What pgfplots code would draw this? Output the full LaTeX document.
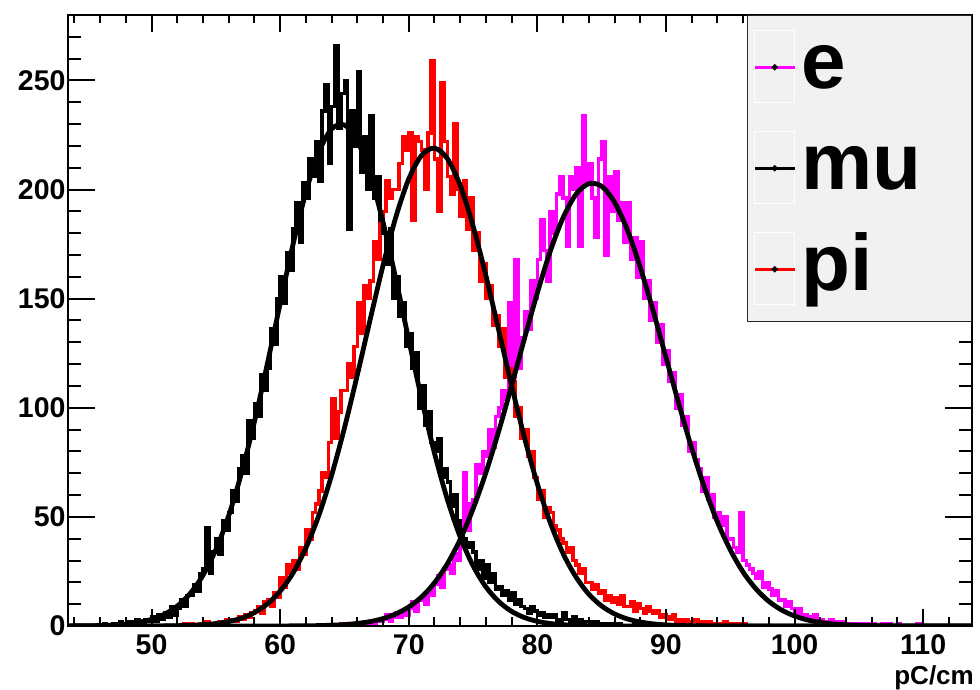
\documentclass[border=0pt]{standalone}
\usepackage{fontspec}
\setmainfont{Liberation Sans}
\usepackage{pgfplots}
\pgfplotsset{compat=1.18}

\definecolor{legbg}{RGB}{241,241,241}
\definecolor{emag}{RGB}{255,0,255}

% common frame of both axes (ROOT look: ticks inside, on all four sides)
\pgfplotsset{
  rootframe/.style={
    scale only axis, width=904pt, height=611pt,
    at={(68pt,64pt)}, anchor=south west,
    xmin=43.5, xmax=113.8, ymin=0, ymax=280,
    tick align=inside,
    axis line style={line width=2pt},
    tick style={black, line width=2pt},
    /pgf/number format/assume math mode=true,
    ticklabel style={font=\bfseries\fontsize{28.5}{28.5}\selectfont},
  },
  hist/.style={const plot, line width=3.6pt},
  gfit/.style={smooth, black, line width=4.8pt},
}

\begin{document}
\begin{tikzpicture}
\useasboundingbox (0,0) rectangle (980pt,690pt);

\begin{axis}[rootframe, axis on top,
  xtick={50,60,...,110}, minor xtick={44,46,...,112}, ytick=\empty,
  major tick length=17pt, minor tick length=8.5pt,
  xticklabel style={yshift=-5pt},
  xlabel={pC/cm},
  xlabel style={at={(rel axis cs:1,0)}, anchor=base east, inner sep=0pt,
    xshift=2pt, yshift=-58.5pt, font=\bfseries\fontsize{26}{26}\selectfont},
]
% e
\addplot[hist, emag] coordinates {
(43.5,0)
(64,0) (64.25,0) (64.5,0) (64.75,1)
(65,0) (65.25,1) (65.5,0) (65.75,0)
(66,1) (66.25,0) (66.5,2) (66.75,1)
(67,2) (67.25,1) (67.5,3) (67.75,2)
(68,3) (68.25,5) (68.5,2) (68.75,4)
(69,6) (69.25,4) (69.5,7) (69.75,5)
(70,8) (70.25,11) (70.5,7) (70.75,12)
(71,13) (71.25,10) (71.5,16) (71.75,14)
(72,19) (72.25,23) (72.5,18) (72.75,26)
(73,28) (73.25,24) (73.5,33) (73.75,30)
(74,38) (74.25,70) (74.5,44) (74.75,56)
(75,58) (75.25,74) (75.5,70) (75.75,80)
(76,78) (76.25,90) (76.5,82) (76.75,96)
(77,100) (77.25,108) (77.5,104) (77.75,148)
(78,114) (78.25,168) (78.5,118) (78.75,132)
(79,144) (79.25,136) (79.5,158) (79.75,150)
(80,168) (80.25,186) (80.5,172) (80.75,158)
(81,190) (81.25,180) (81.5,198) (81.75,206)
(82,196) (82.25,174) (82.5,206) (82.75,200)
(83,210) (83.25,174) (83.5,234) (83.75,204)
(84,212) (84.25,196) (84.5,178) (84.75,214)
(85,222) (85.25,170) (85.5,206) (85.75,190)
(86,208) (86.25,186) (86.5,194) (86.75,176)
(87,194) (87.25,168) (87.5,178) (87.75,160)
(88,176) (88.25,150) (88.5,158) (88.75,140)
(89,148) (89.25,130) (89.5,138) (89.75,120)
(90,126) (90.25,112) (90.5,116) (90.75,100)
(91,106) (91.25,92) (91.5,96) (91.75,80)
(92,84) (92.25,76) (92.5,72) (92.75,62)
(93,68) (93.25,58) (93.5,60) (93.75,50)
(94,52) (94.25,46) (94.5,50) (94.75,40)
(95,40) (95.25,36) (95.5,34) (95.75,52)
(96,30) (96.25,28) (96.5,26) (96.75,24)
(97,22) (97.25,25) (97.5,18) (97.75,20)
(98,17) (98.25,14) (98.5,16) (98.75,12)
(99,12) (99.25,9) (99.5,11) (99.75,8)
(100,6) (100.25,8) (100.5,4) (100.75,5)
(101,4) (101.25,3) (101.5,5) (101.75,2)
(102,3) (102.25,2) (102.5,1) (102.75,3)
(103,2) (103.25,1) (103.5,2) (103.75,0)
(104,1) (104.25,1) (104.5,0) (104.75,1)
(105,0) (105.25,1) (105.5,1) (105.75,0)
(106,1) (106.25,0) (106.5,0) (106.75,1)
(107,0) (107.25,1) (107.5,0) (107.75,0)
(108,1) (108.25,0) (108.5,0) (108.75,0)
(109,0) (109.25,0) (109.5,1) (109.75,0)
(110,0) (113.8,0)
};
% pi
\addplot[hist, red] coordinates {
(43.5,0)
(52,0) (52.25,0) (52.5,1) (52.75,0)
(53,1) (53.25,0) (53.5,0) (53.75,1)
(54,0) (54.25,2) (54.5,1) (54.75,0)
(55,1) (55.25,2) (55.5,1) (55.75,3)
(56,2) (56.25,3) (56.5,2) (56.75,4)
(57,3) (57.25,5) (57.5,4) (57.75,6)
(58,7) (58.25,9) (58.5,6) (58.75,11)
(59,12) (59.25,9) (59.5,15) (59.75,13)
(60,22) (60.25,18) (60.5,28) (60.75,24)
(61,30) (61.25,26) (61.5,36) (61.75,33)
(62,44) (62.25,40) (62.5,52) (62.75,56)
(63,62) (63.25,70) (63.5,68) (63.75,84)
(64,104) (64.25,86) (64.5,98) (64.75,108)
(65,108) (65.25,120) (65.5,114) (65.75,128)
(66,148) (66.25,134) (66.5,156) (66.75,150)
(67,158) (67.25,176) (67.5,168) (67.75,186)
(68,190) (68.25,204) (68.5,196) (68.75,200)
(69,200) (69.25,212) (69.5,224) (69.75,218)
(70,226) (70.25,186) (70.5,224) (70.75,222)
(71,218) (71.25,200) (71.5,226) (71.75,259)
(72,214) (72.25,190) (72.5,249) (72.75,222)
(73,206) (73.25,198) (73.5,230) (73.75,200)
(74,188) (74.25,204) (74.5,182) (74.75,196)
(75,172) (75.25,180) (75.5,158) (75.75,166)
(76,150) (76.25,156) (76.5,138) (76.75,142)
(77,128) (77.25,136) (77.5,114) (77.75,118)
(78,112) (78.25,96) (78.5,100) (78.75,86)
(79,90) (79.25,78) (79.5,80) (79.75,68)
(80,58) (80.25,62) (80.5,50) (80.75,54)
(81,52) (81.25,46) (81.5,44) (81.75,40)
(82,38) (82.25,34) (82.5,36) (82.75,30)
(83,28) (83.25,24) (83.5,26) (83.75,20)
(84,20) (84.25,17) (84.5,19) (84.75,15)
(85,16) (85.25,12) (85.5,14) (85.75,11)
(86,13) (86.25,10) (86.5,14) (86.75,9)
(87,9) (87.25,11) (87.5,7) (87.75,10)
(88,8) (88.25,6) (88.5,9) (88.75,7)
(89,6) (89.25,7) (89.5,4) (89.75,5)
(90,4) (90.25,3) (90.5,5) (90.75,2)
(91,3) (91.25,2) (91.5,3) (91.75,1)
(92,2) (92.25,3) (92.5,1) (92.75,2)
(93,1) (93.25,2) (93.5,1) (93.75,0)
(94,1) (94.25,0) (94.5,2) (94.75,1)
(95,0) (95.25,1) (95.5,0) (95.75,1)
(96,1) (96.25,0) (96.5,0) (96.75,0)
(113.8,0)
};
% mu
\addplot[hist, black] coordinates {
(43.5,0)
(46,0) (46.25,1) (46.5,0) (46.75,0)
(47,1) (47.25,0) (47.5,2) (47.75,1)
(48,1) (48.25,2) (48.5,0) (48.75,3)
(49,2) (49.25,1) (49.5,3) (49.75,2)
(50,4) (50.25,2) (50.5,5) (50.75,3)
(51,6) (51.25,4) (51.5,9) (51.75,5)
(52,8) (52.25,12) (52.5,9) (52.75,14)
(53,14) (53.25,19) (53.5,16) (53.75,24)
(54,26) (54.25,45) (54.5,24) (54.75,34)
(55,40) (55.25,33) (55.5,48) (55.75,44)
(56,52) (56.25,62) (56.5,57) (56.75,72)
(57,78) (57.25,70) (57.5,94) (57.75,86)
(58,102) (58.25,96) (58.5,115) (58.75,108)
(59,118) (59.25,136) (59.5,129) (59.75,150)
(60,160) (60.25,148) (60.5,171) (60.75,163)
(61,182) (61.25,194) (61.5,176) (61.75,203)
(62,196) (62.25,214) (62.5,206) (62.75,222)
(63,204) (63.25,236) (63.5,248) (63.75,212)
(64,238) (64.25,266) (64.5,228) (64.75,244)
(65,250) (65.25,182) (65.5,236) (65.75,220)
(66,254) (66.25,208) (66.5,224) (66.75,200)
(67,234) (67.25,196) (67.5,206) (67.75,186)
(68,180) (68.25,166) (68.5,182) (68.75,150)
(69,160) (69.25,142) (69.5,148) (69.75,128)
(70,134) (70.25,118) (70.5,125) (70.75,100)
(71,110) (71.25,92) (71.5,98) (71.75,84)
(72,80) (72.25,86) (72.5,68) (72.75,72)
(73,66) (73.25,55) (73.5,60) (73.75,48)
(74,44) (74.25,40) (74.5,36) (74.75,38)
(75,34) (75.25,26) (75.5,30) (75.75,22)
(76,28) (76.25,20) (76.5,24) (76.75,17)
(77,18) (77.25,14) (77.5,16) (77.75,12)
(78,15) (78.25,10) (78.5,12) (78.75,9)
(79,8) (79.25,6) (79.5,9) (79.75,7)
(80,5) (80.25,6) (80.5,4) (80.75,5)
(81,4) (81.25,5) (81.5,2) (81.75,3)
(82,6) (82.25,3) (82.5,2) (82.75,4)
(83,2) (83.25,3) (83.5,1) (83.75,2)
(84,2) (84.25,1) (84.5,2) (84.75,0)
(85,1) (85.25,0) (85.5,1) (85.75,1)
(86,0) (86.25,1) (86.5,0) (86.75,0)
(87,0) (87.25,0) (87.5,1) (87.75,0)
(88,0) (113.8,0)
};
% gaussian fits
\addplot[gfit] coordinates {
(43.5,0) (58,0) (62,0.1) (63,0.19) (64,0.36) (65,0.66) (66,1.18) (67,2.03)
(68,3.40) (69,5.54) (70,8.73) (71,13.3) (72,19.8) (73,28.5) (74,39.7) (75,53.7)
(76,70.3) (77,89.4) (78,110.2) (79,131.8) (80,152.7) (81,171.7) (82,187.1)
(83,197.8) (84,202.7) (85,201.5) (86,194.2) (87,181.5) (88,164.4) (89,144.5)
(90,123.1) (91,101.8) (92,81.5) (93,63.4) (94,47.7) (95,34.9) (96,24.7)
(97,17.0) (98,11.3) (99,7.30) (100,4.58) (101,2.78) (102,1.64) (103,0.93)
(104,0.52) (105,0.28) (106,0.14) (108,0.03) (113.8,0)
};
\addplot[gfit] coordinates {
(43.5,0) (50,0.01) (52,0.14) (53,0.30) (54,0.58) (55,1.11) (56,2.04) (57,3.61)
(58,6.15) (59,10.1) (60,16.0) (61,24.3) (62,35.8) (63,50.6) (64,69.1) (65,90.8)
(66,115.1) (67,140.5) (68,165.3) (69,187.5) (70,204.9) (71,215.7) (72,219.0)
(73,214.2) (74,201.9) (75,183.3) (76,160.5) (77,135.4) (78,110.1) (79,86.2)
(80,65.1) (81,47.4) (82,33.2) (83,22.5) (84,14.6) (85,9.17) (86,5.55) (87,3.23)
(88,1.82) (89,0.98) (90,0.51) (91,0.25) (92,0.11) (94,0.02) (100,0) (113.8,0)
};
\addplot[gfit] coordinates {
(43.5,0.02) (45,0.1) (46,0.21) (47,0.44) (48,0.87) (49,1.66) (50,3.06) (51,5.39)
(52,9.13) (53,14.9) (54,23.3) (55,35.0) (56,50.6) (57,70.3) (58,93.7) (59,120.1)
(60,147.8) (61,174.9) (62,198.8) (63,217.1) (64,227.8) (65,229.6) (66,222.4)
(67,206.9) (68,185.0) (69,158.9) (70,131.1) (71,104.0) (72,79.2) (73,58.0)
(74,40.8) (75,27.6) (76,17.9) (77,11.2) (78,6.69) (79,3.85) (80,2.13) (81,1.13)
(82,0.58) (83,0.28) (84,0.13) (86,0.02) (90,0) (113.8,0)
};
\end{axis}

% second frame: y ticks (longer, as in ROOT) and the legend on top
\begin{axis}[rootframe,
  xtick=\empty, ytick={0,50,...,250}, minor ytick={10,20,...,270},
  major tick length=27pt, minor tick length=13pt,
  yticklabel style={xshift=1pt},
  legend style={
    at={(rel axis cs:1,1)}, anchor=north east,
    fill=legbg, draw=black!85, line width=1.5pt,
    inner xsep=6pt, inner ysep=1.5pt,
    row sep=0pt, column sep=5pt,
    font=\bfseries\fontsize{80}{80}\selectfont,
    cells={anchor=base west},
    nodes={inner sep=0pt, text height=71pt, text depth=30pt, text width=164pt, align=left},
  },
  legend image code/.code={
    \draw[white, line width=1pt] (0pt,-14pt) rectangle (40pt,58pt);
    \draw[#1] (0pt,21pt) -- (40pt,21pt);
    \fill[black] (20pt,21pt) circle (1.2pt);
  },
]
\addlegendimage{emag, line width=3pt}
\addlegendentry{e}
\addlegendimage{black, line width=3pt}
\addlegendentry{mu}
\addlegendimage{red, line width=3pt}
\addlegendentry{pi}
\end{axis}
\end{tikzpicture}
\end{document}
